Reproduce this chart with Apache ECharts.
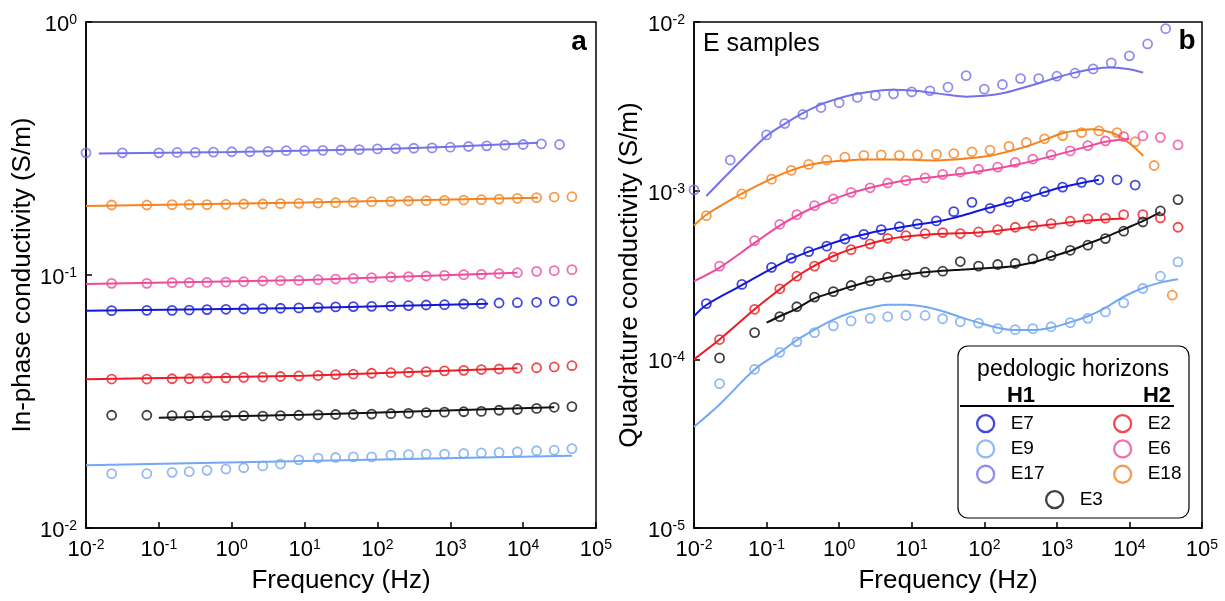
<!DOCTYPE html>
<html><head><meta charset="utf-8">
<script src="https://cdn.jsdelivr.net/npm/echarts@6/dist/echarts.min.js"></script>
<style>html,body{margin:0;padding:0;background:#fff}#c{width:1225px;height:601px}</style>
</head><body><div id="c"></div>
<script>
// ---------- frequencies (Hz) ----------
const FREQ_A = [0.0225, 0.0684, 0.152, 0.261, 0.458, 0.833, 1.46, 2.67, 4.67, 8.33, 15.3, 26.7, 46.7, 83.3, 153, 267, 467, 833, 1530, 2670, 4670, 8330, 15300, 26700, 46700];
const FREQ_B = [0.0148, 0.0457, 0.117, 0.219, 0.380, 0.676, 1.20, 2.19, 3.80, 6.76, 12.0, 21.9, 38.0, 67.6, 120, 219, 380, 676, 1200, 2190, 3800, 6760, 12000, 21900, 38900];
const FREQ_C = [0.01, 0.0316, 0.1, 0.178, 0.316, 0.562, 1, 1.78, 3.16, 5.62, 10, 17.8, 31.6, 56.2, 100, 178, 316, 562, 1000, 1780, 3160, 5620, 10000, 17800, 31600];

// ---------- panel a: in-phase conductivity (S/m), measured ----------
const IP_E17 = [0.304, 0.304, 0.304, 0.305, 0.305, 0.306, 0.307, 0.307, 0.308, 0.310, 0.310, 0.311, 0.312, 0.313, 0.315, 0.316, 0.317, 0.318, 0.320, 0.322, 0.324, 0.326, 0.328, 0.330, 0.328];
const IP_E18 = [0.1891, 0.1891, 0.1897, 0.1897, 0.1897, 0.1902, 0.1908, 0.1908, 0.1914, 0.1920, 0.1925, 0.1931, 0.1937, 0.1949, 0.1955, 0.1961, 0.1967, 0.1972, 0.1978, 0.1984, 0.1996, 0.2009, 0.2021, 0.2033, 0.2039];
const IP_E6  = [0.0927, 0.0927, 0.0933, 0.0933, 0.0935, 0.0938, 0.0941, 0.0947, 0.0950, 0.0952, 0.0958, 0.0964, 0.0970, 0.0976, 0.0982, 0.0985, 0.0991, 0.0997, 0.1003, 0.1006, 0.1012, 0.1021, 0.1034, 0.1040, 0.1050];
const IP_E7  = [0.0723, 0.0725, 0.0725, 0.0727, 0.0730, 0.0732, 0.0734, 0.0736, 0.0739, 0.0741, 0.0745, 0.0748, 0.0750, 0.0752, 0.0754, 0.0757, 0.0761, 0.0763, 0.0768, 0.0770, 0.0775, 0.0777, 0.0780, 0.0787, 0.0792];
const IP_E2  = [0.0388, 0.0388, 0.0389, 0.0389, 0.0391, 0.0392, 0.0394, 0.0395, 0.0397, 0.0399, 0.0401, 0.0404, 0.0406, 0.0409, 0.0411, 0.0412, 0.0415, 0.0418, 0.0420, 0.0423, 0.0425, 0.0428, 0.0430, 0.0433, 0.0438];
const IP_E3  = [0.0279, 0.0279, 0.0278, 0.0278, 0.0278, 0.0278, 0.0278, 0.0277, 0.0278, 0.0279, 0.0280, 0.0281, 0.0281, 0.0282, 0.0283, 0.0284, 0.0286, 0.0287, 0.0288, 0.0289, 0.0292, 0.0294, 0.0297, 0.0300, 0.0302];
const IP_E9  = [0.0164, 0.0164, 0.0166, 0.0167, 0.0169, 0.0171, 0.0173, 0.0176, 0.0179, 0.0186, 0.0189, 0.0190, 0.0191, 0.0191, 0.0194, 0.0195, 0.0196, 0.0196, 0.0197, 0.0198, 0.0199, 0.0200, 0.0202, 0.0203, 0.0206];

// ---------- panel a: fitted curves ----------
const IPF_E17_X = [0.015, 1, 100, 1000, 16000];   const IPF_E17 = [0.302, 0.306, 0.314, 0.321, 0.333];
const IPF_E18_X = [0.01, 10, 16000];              const IPF_E18 = [0.1874, 0.1935, 0.2021];
const IPF_E6_X  = [0.01, 10, 8330];               const IPF_E6  = [0.0922, 0.0955, 0.1021];
const IPF_E7_X  = [0.01, 10, 3300];               const IPF_E7  = [0.0722, 0.0741, 0.0770];
const IPF_E2_X  = [0.01, 10, 8330];               const IPF_E2  = [0.0387, 0.0400, 0.0428];
const IPF_E3_X  = [0.1, 10, 26700];               const IPF_E3  = [0.0273, 0.0280, 0.0300];
const IPF_E9_X  = [0.01, 10, 46700];              const IPF_E9  = [0.0177, 0.0184, 0.0193];

// ---------- panel b: quadrature conductivity (S/m), measured ----------
const Q_E17 = [1.01e-3, 1.52e-3, 2.14e-3, 2.50e-3, 2.83e-3, 3.11e-3, 3.32e-3, 3.57e-3, 3.67e-3, 3.75e-3, 3.85e-3, 3.91e-3, 4.11e-3, 4.81e-3, 4.00e-3, 4.26e-3, 4.62e-3, 4.62e-3, 4.77e-3, 4.97e-3, 5.27e-3, 5.72e-3, 6.30e-3, 7.41e-3, 9.13e-3];
const Q_E18 = [7.11e-4, 9.56e-4, 1.17e-3, 1.32e-3, 1.43e-3, 1.52e-3, 1.58e-3, 1.62e-3, 1.63e-3, 1.62e-3, 1.63e-3, 1.64e-3, 1.66e-3, 1.70e-3, 1.74e-3, 1.83e-3, 1.93e-3, 2.03e-3, 2.12e-3, 2.21e-3, 2.26e-3, 2.21e-3, 1.95e-3, 1.41e-3, 2.40e-4];
const Q_E6  = [3.57e-4, 5.06e-4, 6.32e-4, 7.21e-4, 8.15e-4, 8.93e-4, 9.77e-4, 1.04e-3, 1.11e-3, 1.15e-3, 1.19e-3, 1.25e-3, 1.29e-3, 1.34e-3, 1.38e-3, 1.47e-3, 1.54e-3, 1.63e-3, 1.72e-3, 1.85e-3, 1.97e-3, 2.09e-3, 2.11e-3, 2.07e-3, 1.87e-3];
const Q_E7  = [2.14e-4, 2.78e-4, 3.51e-4, 3.98e-4, 4.35e-4, 4.69e-4, 5.17e-4, 5.51e-4, 5.88e-4, 6.12e-4, 6.35e-4, 6.62e-4, 7.51e-4, 8.53e-4, 7.86e-4, 8.57e-4, 9.21e-4, 9.86e-4, 1.05e-3, 1.12e-3, 1.16e-3, 1.16e-3, 1.08e-3];
const Q_E2  = [1.31e-4, 1.98e-4, 2.62e-4, 3.11e-4, 3.57e-4, 4.05e-4, 4.47e-4, 4.84e-4, 5.22e-4, 5.41e-4, 5.57e-4, 5.64e-4, 5.57e-4, 5.69e-4, 5.88e-4, 6.07e-4, 6.21e-4, 6.38e-4, 6.59e-4, 6.80e-4, 6.87e-4, 7.21e-4, 7.21e-4, 6.89e-4, 6.07e-4];
const Q_E3  = [1.02e-4, 1.44e-4, 1.79e-4, 2.05e-4, 2.34e-4, 2.52e-4, 2.74e-4, 2.92e-4, 3.07e-4, 3.18e-4, 3.29e-4, 3.33e-4, 3.80e-4, 3.57e-4, 3.65e-4, 3.70e-4, 3.94e-4, 4.12e-4, 4.43e-4, 4.75e-4, 5.20e-4, 5.75e-4, 6.52e-4, 7.58e-4, 8.85e-4];
const Q_E9  = [7.18e-5, 8.73e-5, 1.10e-4, 1.27e-4, 1.44e-4, 1.58e-4, 1.69e-4, 1.75e-4, 1.79e-4, 1.82e-4, 1.82e-4, 1.74e-4, 1.67e-4, 1.64e-4, 1.52e-4, 1.50e-4, 1.52e-4, 1.56e-4, 1.65e-4, 1.75e-4, 1.91e-4, 2.16e-4, 2.63e-4, 3.11e-4, 3.78e-4];

// ---------- panel b: fitted curves ----------
const QF_E17_X = [0.0148, 0.0316, 0.1, 0.178, 0.316, 0.562, 1, 1.78, 3.16, 5.62, 10, 17.8, 31.6, 56.2, 100, 178, 316, 562, 1000, 1780, 3160, 5620, 10000, 15500];
const QF_E17   = [9.3e-4, 1.30e-3, 2.11e-3, 2.49e-3, 2.88e-3, 3.25e-3, 3.53e-3, 3.75e-3, 3.90e-3, 3.96e-3, 3.92e-3, 3.82e-3, 3.70e-3, 3.61e-3, 3.65e-3, 3.78e-3, 4.03e-3, 4.33e-3, 4.69e-3, 5.01e-3, 5.27e-3, 5.37e-3, 5.25e-3, 5.01e-3];
const QF_E18_X = [0.01, 0.0148, 0.0457, 0.117, 0.219, 0.380, 0.676, 1.20, 2.19, 6.76, 21.9, 38.0, 67.6, 120, 219, 380, 676, 1200, 2190, 3160, 5000, 6760, 10000, 15500];
const QF_E18   = [6.21e-4, 7.2e-4, 9.6e-4, 1.18e-3, 1.32e-3, 1.42e-3, 1.48e-3, 1.51e-3, 1.53e-3, 1.53e-3, 1.51e-3, 1.53e-3, 1.56e-3, 1.61e-3, 1.71e-3, 1.83e-3, 2.00e-3, 2.19e-3, 2.29e-3, 2.31e-3, 2.24e-3, 2.14e-3, 1.91e-3, 1.61e-3];
const QF_E6_X  = [0.01, 0.0225, 0.0684, 0.152, 0.261, 0.458, 0.833, 1.46, 2.67, 4.67, 8.33, 26.7, 83.3, 267, 833, 2670, 4670, 10000];
const QF_E6    = [2.91e-4, 3.5e-4, 4.9e-4, 6.2e-4, 7.1e-4, 8.0e-4, 8.9e-4, 9.7e-4, 1.04e-3, 1.10e-3, 1.15e-3, 1.22e-3, 1.30e-3, 1.42e-3, 1.60e-3, 1.83e-3, 1.95e-3, 2.03e-3];
const QF_E7_X  = [0.01, 0.0148, 0.0457, 0.117, 0.219, 0.380, 0.676, 1.20, 2.19, 3.80, 6.76, 12.0, 21.9, 38.0, 67.6, 120, 219, 380, 676, 1200, 2190, 3800];
const QF_E7    = [1.80e-4, 2.1e-4, 2.75e-4, 3.45e-4, 3.95e-4, 4.35e-4, 4.75e-4, 5.15e-4, 5.5e-4, 5.8e-4, 6.05e-4, 6.3e-4, 6.55e-4, 6.9e-4, 7.4e-4, 7.95e-4, 8.5e-4, 9.1e-4, 9.8e-4, 1.05e-3, 1.11e-3, 1.16e-3];
const QF_E2_X  = [0.01, 0.0225, 0.0684, 0.152, 0.261, 0.458, 0.833, 1.46, 2.67, 4.67, 8.33, 26.7, 83.3, 267, 833, 2670, 4670, 8330];
const QF_E2    = [1.0e-4, 1.31e-4, 1.98e-4, 2.6e-4, 3.1e-4, 3.6e-4, 4.1e-4, 4.5e-4, 4.85e-4, 5.15e-4, 5.35e-4, 5.55e-4, 5.65e-4, 5.95e-4, 6.3e-4, 6.65e-4, 6.75e-4, 6.85e-4];
const QF_E3_X  = [0.1, 0.152, 0.261, 0.458, 0.833, 1.46, 2.67, 4.67, 8.33, 15.3, 26.7, 46.7, 83.3, 153, 267, 467, 833, 1530, 2670, 4670, 8330, 15300, 26700];
const QF_E3    = [1.65e-4, 1.8e-4, 2.0e-4, 2.3e-4, 2.5e-4, 2.7e-4, 2.9e-4, 3.05e-4, 3.18e-4, 3.28e-4, 3.35e-4, 3.40e-4, 3.45e-4, 3.5e-4, 3.58e-4, 3.75e-4, 4.05e-4, 4.4e-4, 4.85e-4, 5.3e-4, 5.9e-4, 6.6e-4, 7.45e-4];
const QF_E9_X  = [0.01, 0.0225, 0.0684, 0.152, 0.261, 0.458, 0.833, 1.46, 2.67, 4.67, 8.33, 15.3, 26.7, 46.7, 83.3, 153, 267, 467, 833, 1530, 2670, 4670, 8330, 15300, 26700, 46700];
const QF_E9    = [3.98e-5, 5.4e-5, 8.7e-5, 1.1e-4, 1.3e-4, 1.5e-4, 1.72e-4, 1.89e-4, 2.02e-4, 2.11e-4, 2.11e-4, 2.05e-4, 1.93e-4, 1.78e-4, 1.65e-4, 1.54e-4, 1.49e-4, 1.49e-4, 1.54e-4, 1.66e-4, 1.80e-4, 2.02e-4, 2.35e-4, 2.65e-4, 2.85e-4, 2.98e-4];

// ---------- styling ----------
const COLORS = {E17:'#7470EC', E18:'#F5821F', E6:'#EE4A9C', E7:'#1218D8', E2:'#EC1C24', E3:'#111111', E9:'#74A8F2'};
const FONT = '"Liberation Sans", Arial, sans-serif';

const zip = (xs, ys) => xs.map((x, i) => [x, ys[i]]);

function supLabel(v){
  const e = Math.round(Math.log10(v));
  return '{b|10}{s|' + e + '}';
}
const richSup = {
  b: {fontSize: 22, fontFamily: FONT, color: '#000', lineHeight: 24, padding: [6, 0, 0, 0]},
  s: {fontSize: 14, fontFamily: FONT, color: '#000', verticalAlign: 'top', lineHeight: 14, padding: [3, 0, 0, 0]}
};

function scatter(name, xi, yi, xs, ys){
  return {name, type:'scatter', xAxisIndex:xi, yAxisIndex:yi, data: zip(xs, ys), symbol:'circle', symbolSize:9, clip:false,
    itemStyle:{color:'rgba(255,255,255,0)', borderColor:COLORS[name], borderWidth:1.8}, z:3, silent:true};
}
function fit(name, xi, yi, xs, ys, smooth){
  return {name: name + ' fit', type:'line', xAxisIndex:xi, yAxisIndex:yi, data: zip(xs, ys), showSymbol:false, symbol:'none',
    smooth: smooth ? 0.35 : false, lineStyle:{color:COLORS[name], width:2}, z:2, silent:true};
}

const xAxisBase = (gi) => ({
  type:'log', logBase:10, gridIndex:gi, min:0.01, max:1e5, splitNumber:7,
  name:'Frequency (Hz)', nameLocation:'middle', nameGap:40,
  nameTextStyle:{fontSize:26, fontFamily:FONT, color:'#000'},
  axisLine:{show:true, onZero:false, lineStyle:{color:'#000', width:1.5}},
  axisTick:{show:true, inside:true, length:6, lineStyle:{color:'#000', width:1.5}},
  minorTick:{show:false}, splitLine:{show:false},
  axisLabel:{formatter:supLabel, rich:richSup, margin:7, showMinLabel:true, showMaxLabel:true, hideOverlap:false}
});
const yAxisBase = (gi, min, max, split, name, gap) => ({
  type:'log', logBase:10, gridIndex:gi, min, max, splitNumber:split,
  name, nameLocation:'middle', nameGap:gap,
  nameTextStyle:{fontSize:26, fontFamily:FONT, color:'#000'},
  axisLine:{show:true, onZero:false, lineStyle:{color:'#000', width:1.5}},
  axisTick:{show:true, inside:true, length:6, lineStyle:{color:'#000', width:1.5}},
  minorTick:{show:false}, splitLine:{show:false},
  axisLabel:{formatter:supLabel, rich:richSup, margin:9, showMinLabel:true, showMaxLabel:true, hideOverlap:false}
});

const series = [
  fit('E17',0,0,IPF_E17_X,IPF_E17), fit('E18',0,0,IPF_E18_X,IPF_E18), fit('E6',0,0,IPF_E6_X,IPF_E6),
  fit('E7',0,0,IPF_E7_X,IPF_E7), fit('E2',0,0,IPF_E2_X,IPF_E2), fit('E3',0,0,IPF_E3_X,IPF_E3), fit('E9',0,0,IPF_E9_X,IPF_E9),
  scatter('E17',0,0,FREQ_C,IP_E17), scatter('E18',0,0,FREQ_A,IP_E18), scatter('E6',0,0,FREQ_A,IP_E6),
  scatter('E7',0,0,FREQ_A,IP_E7), scatter('E2',0,0,FREQ_A,IP_E2), scatter('E3',0,0,FREQ_A,IP_E3), scatter('E9',0,0,FREQ_A,IP_E9),
  fit('E17',1,1,QF_E17_X,QF_E17,true), fit('E18',1,1,QF_E18_X,QF_E18,true), fit('E6',1,1,QF_E6_X,QF_E6,true),
  fit('E7',1,1,QF_E7_X,QF_E7,true), fit('E2',1,1,QF_E2_X,QF_E2,true), fit('E3',1,1,QF_E3_X,QF_E3,true), fit('E9',1,1,QF_E9_X,QF_E9,true),
  scatter('E17',1,1,FREQ_C,Q_E17), scatter('E18',1,1,FREQ_B,Q_E18), scatter('E6',1,1,FREQ_A,Q_E6),
  scatter('E7',1,1,FREQ_B.slice(0, Q_E7.length),Q_E7), scatter('E2',1,1,FREQ_A,Q_E2), scatter('E3',1,1,FREQ_A,Q_E3), scatter('E9',1,1,FREQ_A,Q_E9)
];

const legendItem = (n) => ({name:n, icon:'circle', itemStyle:{color:'rgba(255,255,255,0)', borderColor:COLORS[n], borderWidth:2.3}});
const legendBase = {orient:'vertical', itemWidth:40, itemHeight:17, itemGap:6, selectedMode:false, padding:0,
  textStyle:{fontSize:19, fontFamily:FONT, color:'#000', lineHeight:19}};

const option = {
  animation:false,
  backgroundColor:'#fff',
  textStyle:{fontFamily:FONT},
  grid:[
    {left:86, top:22, width:510, height:506, show:true, borderColor:'#000', borderWidth:1.5, backgroundColor:'transparent', outerBoundsMode:'none'},
    {left:694, top:22, width:508, height:506, show:true, borderColor:'#000', borderWidth:1.5, backgroundColor:'transparent', outerBoundsMode:'none'}
  ],
  xAxis:[xAxisBase(0), xAxisBase(1)],
  yAxis:[
    yAxisBase(0, 0.01, 1, 2, 'In-phase conductivity (S/m)', 46),
    yAxisBase(1, 1e-5, 1e-2, 3, 'Quadrature conductivity (S/m)', 51)
  ],
  legend:[
    Object.assign({}, legendBase, {left:976, top:414, data:['E7','E9','E17'].map(legendItem)}),
    Object.assign({}, legendBase, {left:1113, top:414, data:['E2','E6','E18'].map(legendItem)}),
    Object.assign({}, legendBase, {left:1045, top:490, data:['E3'].map(legendItem)})
  ],
  graphic:[
    {type:'text', x:579, y:42, z:5, style:{text:'a', font:'bold 28px ' + FONT, fill:'#000', textAlign:'center', textVerticalAlign:'middle'}},
    {type:'text', x:1187, y:41, z:5, style:{text:'b', font:'bold 28px ' + FONT, fill:'#000', textAlign:'center', textVerticalAlign:'middle'}},
    {type:'text', x:703, y:44, z:5, style:{text:'E samples', font:'25px ' + FONT, fill:'#000', textAlign:'left', textVerticalAlign:'middle'}},
    {type:'rect', z:3, shape:{x:958, y:346, width:231, height:172, r:10}, style:{fill:'#fff', stroke:'#000', lineWidth:1.2}},
    {type:'text', x:1073, y:370, z:5, style:{text:'pedologic horizons', font:'23px ' + FONT, fill:'#000', textAlign:'center', textVerticalAlign:'middle'}},
    {type:'text', x:1021, y:396, z:5, style:{text:'H1', font:'bold 22px ' + FONT, fill:'#000', textAlign:'center', textVerticalAlign:'middle'}},
    {type:'text', x:1157, y:396, z:5, style:{text:'H2', font:'bold 22px ' + FONT, fill:'#000', textAlign:'center', textVerticalAlign:'middle'}},
    {type:'line', z:5, shape:{x1:960, y1:406, x2:1174, y2:406}, style:{stroke:'#000', lineWidth:2}}
  ],
  series
};

const chart = echarts.init(document.getElementById('c'), null, {renderer:'canvas'});
chart.setOption(option);
</script>
</body></html>
